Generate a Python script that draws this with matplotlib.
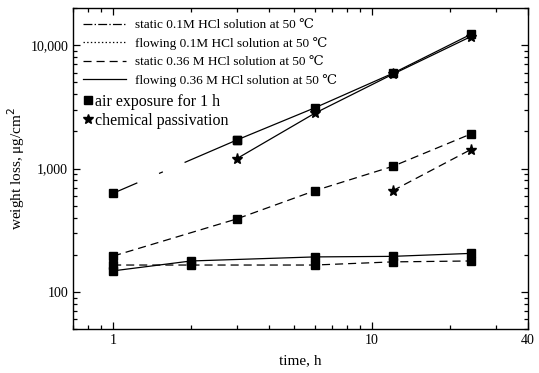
import numpy as np
import matplotlib
matplotlib.use('Agg')
import matplotlib.pyplot as plt
from matplotlib.lines import Line2D
from matplotlib.ticker import FixedLocator, LogLocator, NullFormatter

plt.rcParams['font.family'] = ['Liberation Serif', 'DejaVu Serif']
plt.rcParams['lines.scale_dashes'] = False

# time points, h
t_top = [1, 3, 6, 12, 24]
t_star_top = [3, 6, 12, 24]
t_low = [1, 2, 6, 12, 24]
t_mid = [1, 3, 6, 12, 24]
t_star_mid = [12, 24]

# weight loss, ug/cm2
loss_top = [630, 1700, 3100, 5900, 12200]
loss_star_top = [1200, 2800, 5800, 11700]
loss_mid = [195, 390, 660, 1040, 1900]
loss_star_mid = [660, 1420]
loss_low_solid = [148, 178, 192, 194, 205]
loss_low_dashed = [165, 165, 165, 175, 178]

legend_lines = ['static 0.1M HCl solution at 50 \u2103',
                'flowing 0.1M HCl solution at 50 \u2103',
                'static 0.36 M HCl solution at 50 \u2103',
                'flowing 0.36 M HCl solution at 50 \u2103']
legend_marks = ['air exposure for 1 h', 'chemical passivation']

fig = plt.figure(figsize=(5.39, 3.73), dpi=100)
ax = fig.add_axes([73 / 539, 1 - 329 / 373, 455 / 539, 321 / 373])

lw = 0.9
dash = (5.8, 3.6)
sq = dict(marker='s', markersize=6, color='black', lw=lw)
st = dict(marker='*', markersize=8, color='black', lw=lw)

# top series: sparse dash-dot on the first span, solid after
ax.plot(t_top[:2], loss_top[:2], ls=(41, (60, 17, 3, 17)), **sq)
ax.plot(t_top[1:], loss_top[1:], ls='-', **sq)
ax.plot(t_star_top, loss_star_top, ls='-', **st)

ax.plot(t_mid, loss_mid, dashes=dash, **sq)
ax.plot(t_star_mid, loss_star_mid, dashes=dash, **st)

ax.plot(t_low, loss_low_dashed, dashes=dash, **sq)
ax.plot(t_low, loss_low_solid, ls='-', **sq)

ax.set_xscale('log')
ax.set_yscale('log')
ax.set_xlim(0.7, 40)
ax.set_ylim(50, 20000)

ax.xaxis.set_major_locator(FixedLocator([1, 10, 40]))
ax.set_xticklabels(['1', '10', '40'])
ax.xaxis.set_minor_locator(LogLocator(base=10, subs=np.arange(2, 10)))
ax.xaxis.set_minor_formatter(NullFormatter())
ax.yaxis.set_major_locator(FixedLocator([100, 1000, 10000]))
ax.set_yticklabels(['100', '1,000', '10,000'])
ax.yaxis.set_minor_locator(LogLocator(base=10, subs=np.arange(2, 10)))
ax.yaxis.set_minor_formatter(NullFormatter())

ax.tick_params(which='both', direction='in', top=True, right=True, labelsize=10, width=0.9)
ax.tick_params(which='major', length=5)
ax.tick_params(which='minor', length=3)
for s in ax.spines.values():
    s.set_linewidth(1.0)

ax.set_xlabel('time, h', fontsize=11)
ax.set_ylabel('weight loss, \u03bcg/cm$^2$', fontsize=11)
ax.xaxis.set_label_coords(0.5, -0.08)
ax.yaxis.set_label_coords(-0.1, 0.5)

h1 = [Line2D([], [], color='black', lw=lw, ls='-.'),
      Line2D([], [], color='black', lw=lw, ls=':'),
      Line2D([], [], color='black', lw=lw, dashes=dash),
      Line2D([], [], color='black', lw=lw, ls='-')]
leg1 = ax.legend(h1, legend_lines, loc='upper left', bbox_to_anchor=(83 / 539, 1 - 19 / 373),
                 bbox_transform=fig.transFigure, frameon=False, fontsize=9.5, borderpad=0,
                 borderaxespad=0, handlelength=3.26, handletextpad=0.68, labelspacing=0.45)
ax.add_artist(leg1)

h2 = [Line2D([], [], color='black', marker='s', markersize=5.5, ls='none'),
      Line2D([], [], color='black', marker='*', markersize=7, ls='none')]
ax.legend(h2, legend_marks, loc='upper left', bbox_to_anchor=(83 / 539, 1 - 94 / 373),
          bbox_transform=fig.transFigure, frameon=False, fontsize=11.5, borderpad=0,
          borderaxespad=0, handlelength=0.6, handletextpad=0.15, labelspacing=0.16)

fig.savefig('out.png', dpi=100)
